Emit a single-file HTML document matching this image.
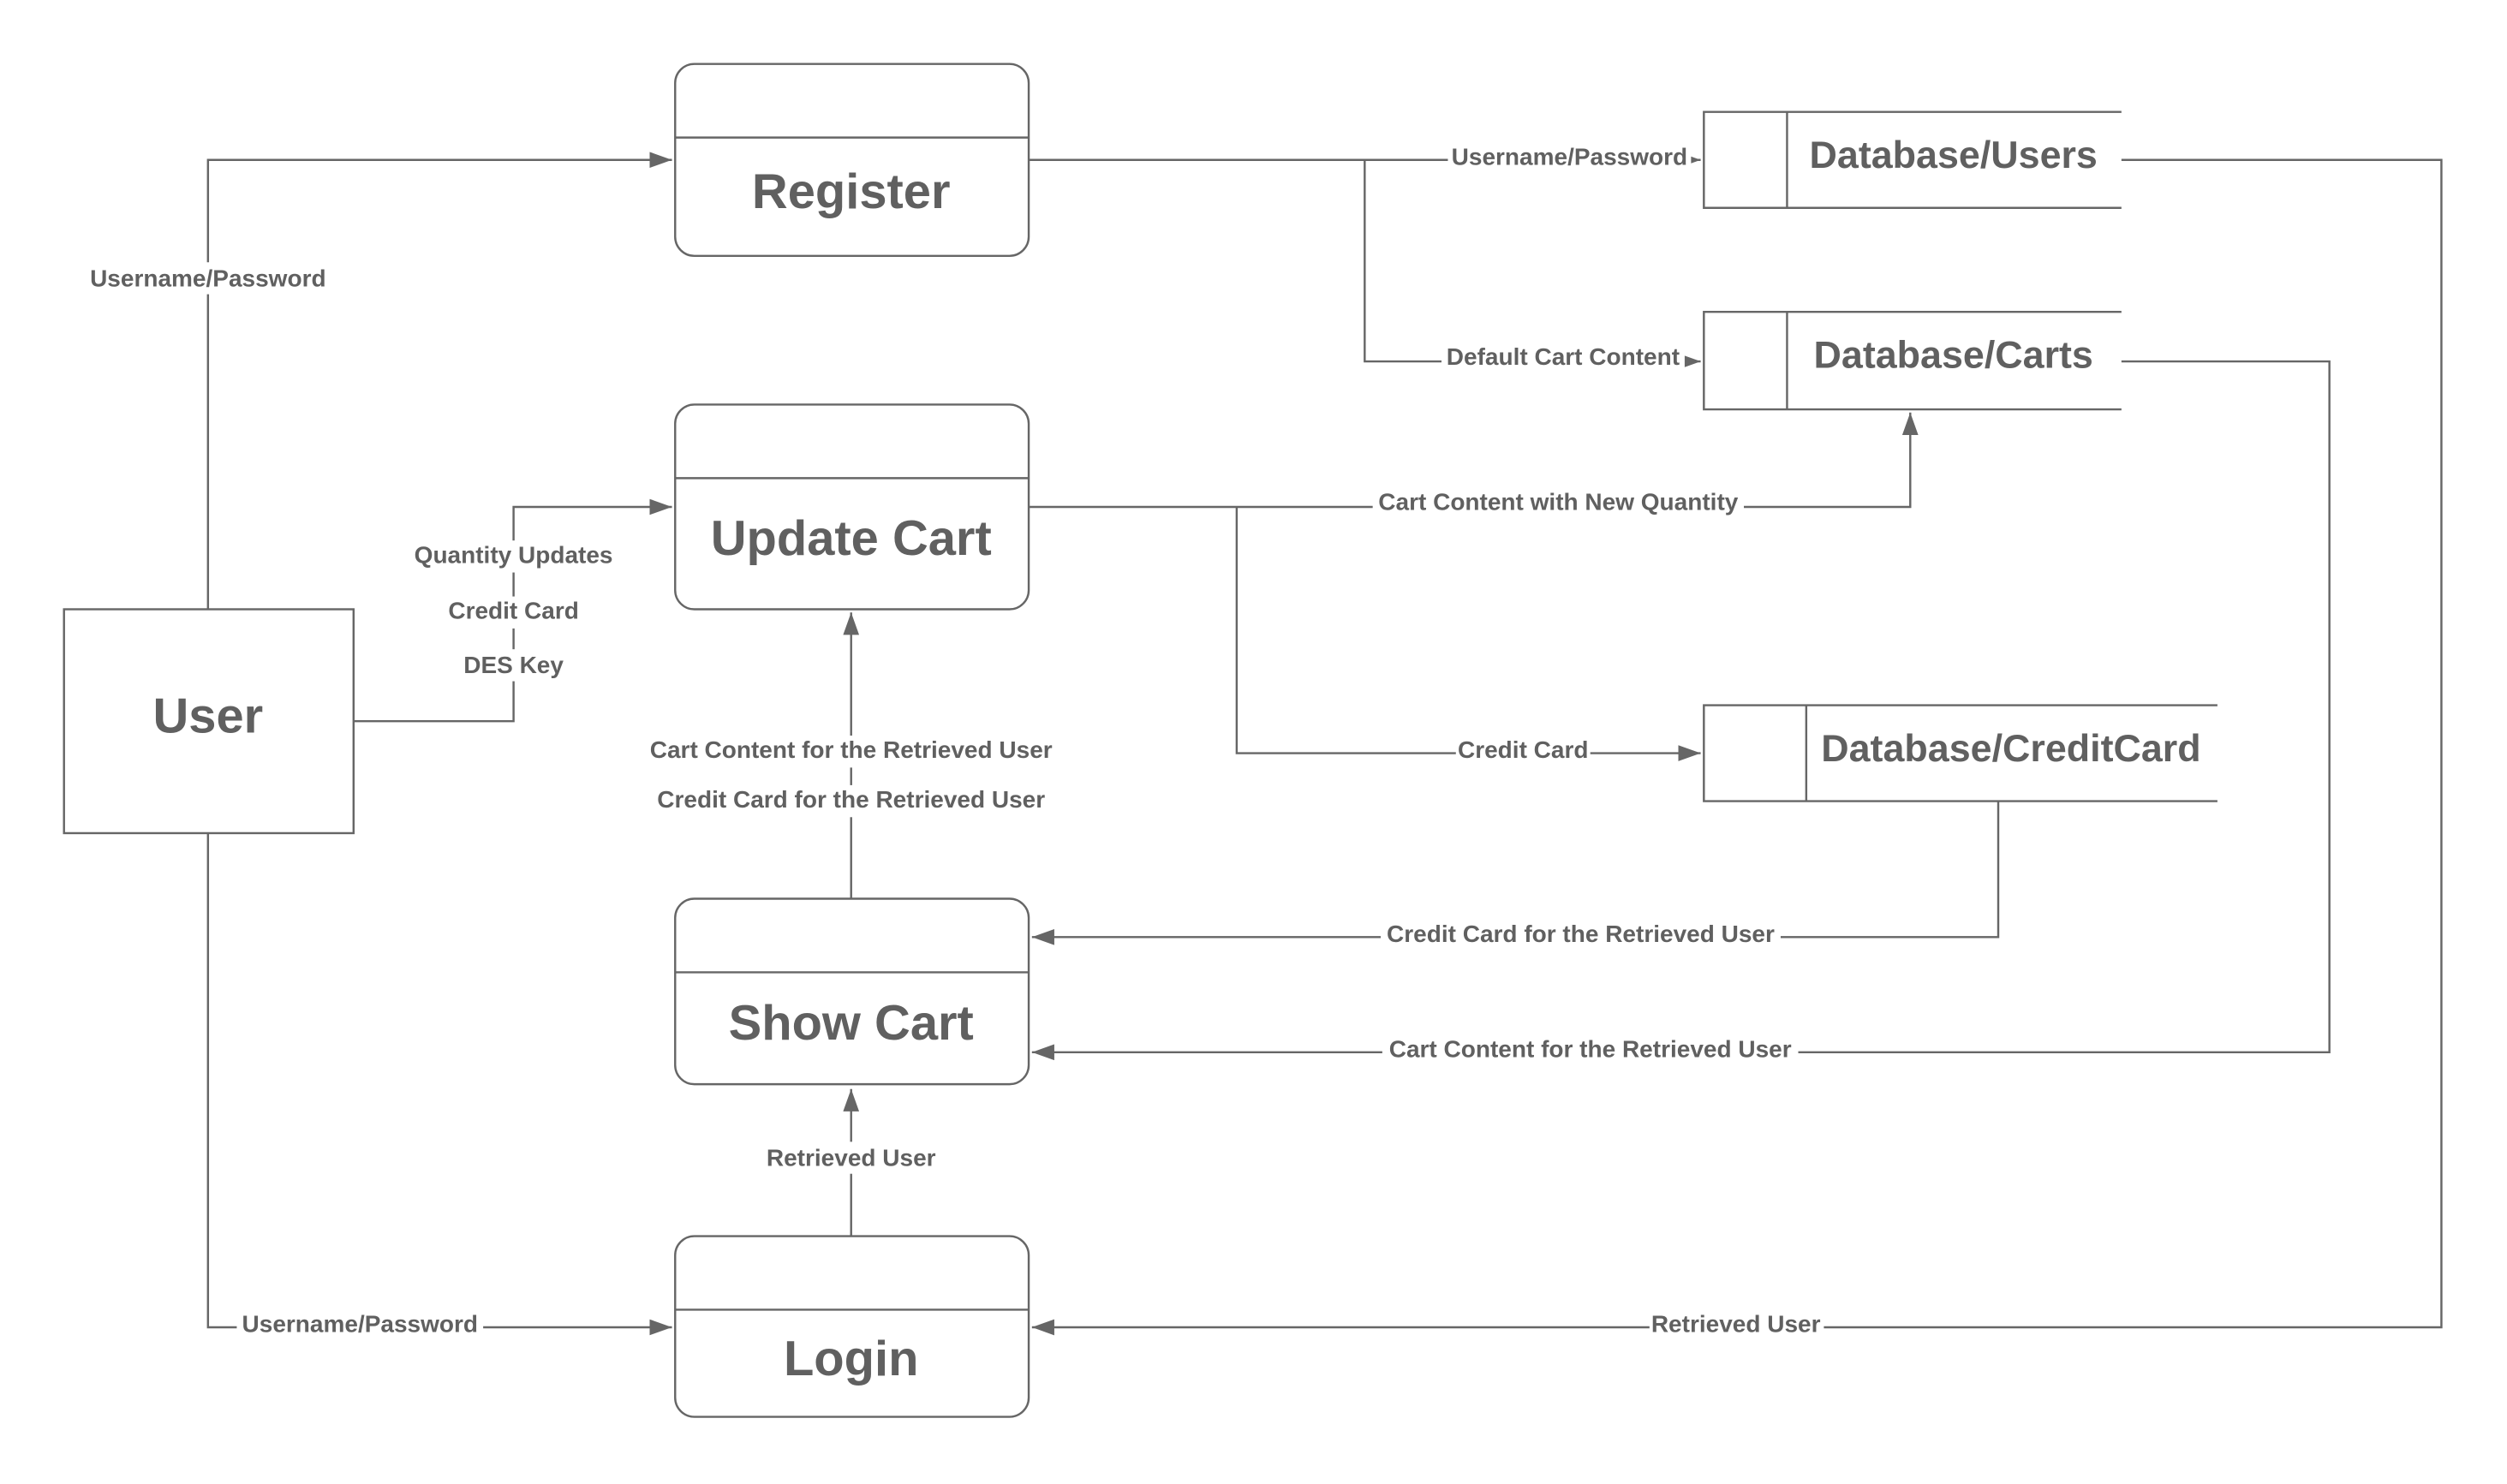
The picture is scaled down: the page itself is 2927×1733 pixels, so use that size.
<!DOCTYPE html>
<html><head><meta charset="utf-8"><style>
html,body{margin:0;padding:0;background:#fff;}
svg{display:block;}
text{font-family:"Liberation Sans",Arial,sans-serif;font-weight:bold;fill:#606060;text-anchor:middle;}
.l{font-size:15px;}
.bg{fill:#fff;}
.t{font-size:31px;}
.d{font-size:24px;}
</style></head><body>
<svg width="2927" height="1733" viewBox="0 0 1567 928" preserveAspectRatio="none" xmlns="http://www.w3.org/2000/svg">
<defs><marker id="a" markerWidth="14" markerHeight="10" refX="14" refY="5" orient="auto" markerUnits="userSpaceOnUse"><path d="M0,0 L14,5 L0,10 z" fill="#666"/></marker></defs>
<g fill="none" stroke="#666" stroke-width="1.3">
<polyline points="130,381 130,100 420,100" marker-end="url(#a)"/>
<polyline points="221,451 321,451 321,317 420,317" marker-end="url(#a)"/>
<polyline points="130,521 130,830 420,830" marker-end="url(#a)"/>
<polyline points="643,100 1063,100" marker-end="url(#a)"/>
<polyline points="853,100 853,226 1063,226" marker-end="url(#a)"/>
<polyline points="643,317 1194,317 1194,258" marker-end="url(#a)"/>
<polyline points="773,317 773,471 1063,471" marker-end="url(#a)"/>
<polyline points="532,562 532,383" marker-end="url(#a)"/>
<polyline points="532,773 532,681" marker-end="url(#a)"/>
<polyline points="1249,501 1249,586 645,586" marker-end="url(#a)"/>
<polyline points="1326,226 1456,226 1456,658 645,658" marker-end="url(#a)"/>
<polyline points="1326,100 1526,100 1526,830 645,830" marker-end="url(#a)"/>
<rect x="40" y="381" width="181" height="140" fill="#fff"/>
<rect x="422" y="40" width="221" height="120" rx="12" fill="#fff"/><line x1="422" y1="86" x2="643" y2="86"/>
<rect x="422" y="253" width="221" height="128" rx="12" fill="#fff"/><line x1="422" y1="299" x2="643" y2="299"/>
<rect x="422" y="562" width="221" height="116" rx="12" fill="#fff"/><line x1="422" y1="608" x2="643" y2="608"/>
<rect x="422" y="773" width="221" height="113" rx="12" fill="#fff"/><line x1="422" y1="819" x2="643" y2="819"/>
<path d="M1326,70 H1065 V130 H1326 M1117,70 V130"/>
<path d="M1326,195 H1065 V256 H1326 M1117,195 V256"/>
<path d="M1386,441 H1065 V501 H1386 M1129,441 V501"/>
</g>
<g class="bg">
<rect x="53" y="164" width="154" height="20"/>
<rect x="256" y="338" width="130" height="20"/>
<rect x="278" y="373" width="86" height="20"/>
<rect x="288" y="406" width="66" height="20"/>
<rect x="148" y="819" width="154" height="20"/>
<rect x="905" y="89" width="152" height="20"/>
<rect x="901" y="214" width="152" height="20"/>
<rect x="858" y="305" width="232" height="20"/>
<rect x="910" y="460" width="84" height="20"/>
<rect x="401" y="460" width="262" height="20"/>
<rect x="406" y="491" width="252" height="20"/>
<rect x="477" y="714" width="110" height="20"/>
<rect x="863" y="575" width="250" height="20"/>
<rect x="864" y="647" width="260" height="20"/>
<rect x="1031" y="819" width="109" height="20"/>
</g>
<text class="t" x="130" y="458">User</text>
<text class="t" x="532" y="130">Register</text>
<text class="t" x="532" y="347">Update Cart</text>
<text class="t" x="532" y="650">Show Cart</text>
<text class="t" x="532" y="860">Login</text>
<text class="d" x="1221" y="105">Database/Users</text>
<text class="d" x="1221" y="230">Database/Carts</text>
<text class="d" x="1257" y="476">Database/CreditCard</text>
<text class="l" x="130" y="179">Username/Password</text>
<text class="l" x="321" y="352">Quantity Updates</text>
<text class="l" x="321" y="387">Credit Card</text>
<text class="l" x="321" y="421">DES Key</text>
<text class="l" x="225" y="833">Username/Password</text>
<text class="l" x="981" y="103">Username/Password</text>
<text class="l" x="977" y="228">Default Cart Content</text>
<text class="l" x="974" y="319">Cart Content with New Quantity</text>
<text class="l" x="952" y="474">Credit Card</text>
<text class="l" x="532" y="474">Cart Content for the Retrieved User</text>
<text class="l" x="532" y="505">Credit Card for the Retrieved User</text>
<text class="l" x="532" y="729">Retrieved User</text>
<text class="l" x="988" y="589">Credit Card for the Retrieved User</text>
<text class="l" x="994" y="661">Cart Content for the Retrieved User</text>
<text class="l" x="1085" y="833">Retrieved User</text>
</svg>
</body></html>
